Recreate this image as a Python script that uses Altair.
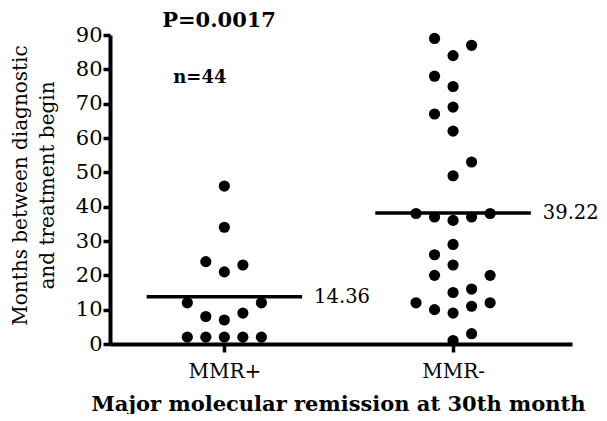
import altair as alt
import pandas as pd

# ---- data ----
groups = ["MMR+", "MMR-"]
mmr_pos_values = [46, 34, 24, 21, 23, 12, 8, 7, 9, 12, 2, 2, 2, 2, 2]
mmr_pos_slots = [0, 0, -1, 0, 1, -2, -1, 0, 1, 2, -2, -1, 0, 1, 2]
mmr_neg_values = [89, 87, 84, 78, 75, 69, 67, 62, 53, 49,
                  38, 37, 36, 37, 38, 29, 26, 23, 20, 20,
                  16, 15, 12, 10, 11, 12, 9, 3, 1]
mmr_neg_slots = [-1, 1, 0, -1, 0, 0, -1, 0, 1, 0,
                 -2, -1, 0, 1, 2, 0, -1, 0, -1, 2,
                 1, 0, -2, -1, 1, 2, 0, 1, 0]
mean_labels = ["14.36", "39.22"]
y_ticks = [0, 10, 20, 30, 40, 50, 60, 70, 80, 90]
annot_text = ["P=0.0017", "n=44"]
annot_x = [0.977, 0.893]
annot_y = [94.0, 77.5]
y_title = ["Months between diagnostic", "and treatment begin"]
x_title = "Major molecular remission at 30th month"

rows = []
for v, s in zip(mmr_pos_values, mmr_pos_slots):
    rows.append({"group": groups[0], "gi": 1, "value": v, "slot": s})
for v, s in zip(mmr_neg_values, mmr_neg_slots):
    rows.append({"group": groups[1], "gi": 2, "value": v, "slot": s})
df = pd.DataFrame(rows)
labels_df = pd.DataFrame({"gi": [1, 2], "label": mean_labels})
annot_df = pd.DataFrame({"text": annot_text, "x": annot_x, "y": annot_y})

FONT = "DejaVu Serif"
xscale = alt.Scale(domain=[0.5, 2.52], nice=False, zero=False)
yscale = alt.Scale(domain=[0, 90], nice=False)

label_expr = f"datum.value == 1 ? '{groups[0]}' : '{groups[1]}'"

xaxis = alt.Axis(
    title=x_title, values=[1, 2], labelExpr=label_expr, grid=False,
    domainColor="black", domainWidth=4, tickColor="black", tickWidth=3.5,
    tickSize=8, labelFont=FONT, labelFontSize=20, labelColor="black",
    labelPadding=9, labelFlush=False, titleFont=FONT, titleFontSize=21,
    titleFontWeight="bold", titleColor="black", titleX=228, titleY=66,
    titleBaseline="alphabetic",
)
yaxis = alt.Axis(
    title=y_title, values=y_ticks, grid=False,
    domainColor="black", domainWidth=4, tickColor="black", tickWidth=3.5,
    tickSize=7, labelFont=FONT, labelFontSize=21, labelColor="black",
    labelPadding=1, titleFont=FONT, titleFontSize=20,
    titleFontWeight="normal", titleColor="black", titleX=-100, titleY=150,
    titleBaseline="top", titleLineHeight=27, titleAngle=270,
)

points = alt.Chart(df).transform_calculate(
    xpos="datum.gi + datum.slot * 0.081"
).mark_circle(size=125, color="black", opacity=1).encode(
    x=alt.X("xpos:Q", scale=xscale, axis=xaxis),
    y=alt.Y("value:Q", scale=yscale, axis=yaxis),
)

means = alt.Chart(df).transform_aggregate(
    mean="mean(value)", groupby=["gi"]
).transform_calculate(
    x1="datum.gi - 0.34", x2="datum.gi + 0.34"
)

mean_rules = means.mark_rule(strokeWidth=3.5, color="black").encode(
    x=alt.X("x1:Q", scale=xscale, axis=xaxis),
    x2="x2:Q",
    y=alt.Y("mean:Q", scale=yscale, axis=yaxis),
)

mean_text = means.transform_lookup(
    lookup="gi", from_=alt.LookupData(labels_df, key="gi", fields=["label"])
).mark_text(align="left", baseline="middle", dx=12, font=FONT,
            fontSize=19.5, color="black").encode(
    x=alt.X("x2:Q", scale=xscale, axis=xaxis),
    y=alt.Y("mean:Q", scale=yscale, axis=yaxis),
    text="label:N",
)

annot = alt.Chart(annot_df).mark_text(
    align="center", baseline="middle", font=FONT, fontWeight="bold",
    color="black").encode(
    x=alt.X("x:Q", scale=xscale, axis=xaxis),
    y=alt.Y("y:Q", scale=yscale, axis=yaxis),
    text="text:N",
    size=alt.condition("datum.text == 'n=44'", alt.value(18), alt.value(21)),
)

chart = alt.layer(points, mean_rules, mean_text, annot).properties(
    width=462, height=309,
    padding={"left": 102, "top": 27, "right": 27, "bottom": 70},
    autosize=alt.AutoSizeParams(type="none"),
).configure_view(stroke=None)

chart.save("out.html", embed_options={"renderer": "svg", "actions": False})
